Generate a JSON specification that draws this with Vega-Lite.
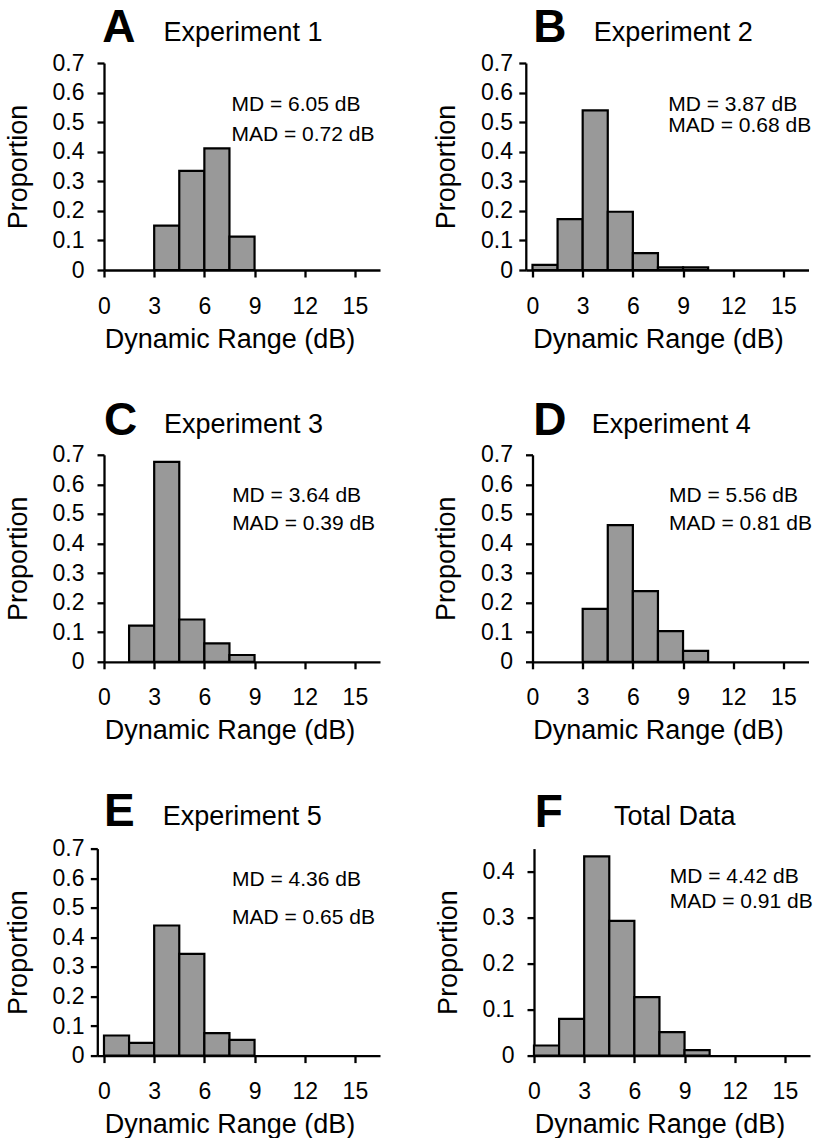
{
  "$schema": "https://vega.github.io/schema/vega-lite/v6.json",
  "padding": {"left": 4, "top": 4, "right": 0, "bottom": 0},
  "background": "white",
  "datasets": {
    "bars": [
      {"panel": "A", "lo": 3, "hi": 4.5, "p": 0.150},
      {"panel": "A", "lo": 4.5, "hi": 6, "p": 0.335},
      {"panel": "A", "lo": 6, "hi": 7.5, "p": 0.411},
      {"panel": "A", "lo": 7.5, "hi": 9, "p": 0.113},
      {"panel": "B", "lo": 0, "hi": 1.5, "p": 0.017},
      {"panel": "B", "lo": 1.5, "hi": 3, "p": 0.172},
      {"panel": "B", "lo": 3, "hi": 4.5, "p": 0.540},
      {"panel": "B", "lo": 4.5, "hi": 6, "p": 0.197},
      {"panel": "B", "lo": 6, "hi": 7.5, "p": 0.057},
      {"panel": "B", "lo": 7.5, "hi": 9, "p": 0.009},
      {"panel": "B", "lo": 9, "hi": 10.5, "p": 0.009},
      {"panel": "C", "lo": 1.5, "hi": 3, "p": 0.122},
      {"panel": "C", "lo": 3, "hi": 4.5, "p": 0.676},
      {"panel": "C", "lo": 4.5, "hi": 6, "p": 0.143},
      {"panel": "C", "lo": 6, "hi": 7.5, "p": 0.062},
      {"panel": "C", "lo": 7.5, "hi": 9, "p": 0.023},
      {"panel": "D", "lo": 3, "hi": 4.5, "p": 0.179},
      {"panel": "D", "lo": 4.5, "hi": 6, "p": 0.462},
      {"panel": "D", "lo": 6, "hi": 7.5, "p": 0.239},
      {"panel": "D", "lo": 7.5, "hi": 9, "p": 0.104},
      {"panel": "D", "lo": 9, "hi": 10.5, "p": 0.037},
      {"panel": "E", "lo": 0, "hi": 1.5, "p": 0.068},
      {"panel": "E", "lo": 1.5, "hi": 3, "p": 0.043},
      {"panel": "E", "lo": 3, "hi": 4.5, "p": 0.440},
      {"panel": "E", "lo": 4.5, "hi": 6, "p": 0.344},
      {"panel": "E", "lo": 6, "hi": 7.5, "p": 0.076},
      {"panel": "E", "lo": 7.5, "hi": 9, "p": 0.053},
      {"panel": "F", "lo": 0, "hi": 1.5, "p": 0.022},
      {"panel": "F", "lo": 1.5, "hi": 3, "p": 0.080},
      {"panel": "F", "lo": 3, "hi": 4.5, "p": 0.433},
      {"panel": "F", "lo": 4.5, "hi": 6, "p": 0.293},
      {"panel": "F", "lo": 6, "hi": 7.5, "p": 0.127},
      {"panel": "F", "lo": 7.5, "hi": 9, "p": 0.051},
      {"panel": "F", "lo": 9, "hi": 10.5, "p": 0.012}
    ],
    "notes": [
      {"panel": "A", "kind": "letter", "label": "A", "x": -0.1, "y": 0.772},
      {"panel": "A", "kind": "name", "label": "Experiment 1", "x": 8.31, "y": 0.774},
      {"panel": "A", "kind": "stat", "label": "MD = 6.05 dB", "x": 7.62, "y": 0.558},
      {"panel": "A", "kind": "stat", "label": "MAD = 0.72 dB", "x": 7.62, "y": 0.458},
      {"panel": "B", "kind": "letter", "label": "B", "x": 0.05, "y": 0.772},
      {"panel": "B", "kind": "name", "label": "Experiment 2", "x": 8.41, "y": 0.774},
      {"panel": "B", "kind": "stat", "label": "MD = 3.87 dB", "x": 8.11, "y": 0.558},
      {"panel": "B", "kind": "stat", "label": "MAD = 0.68 dB", "x": 8.11, "y": 0.488},
      {"panel": "C", "kind": "letter", "label": "C", "x": 0.0, "y": 0.768},
      {"panel": "C", "kind": "name", "label": "Experiment 3", "x": 8.34, "y": 0.774},
      {"panel": "C", "kind": "stat", "label": "MD = 3.64 dB", "x": 7.66, "y": 0.562},
      {"panel": "C", "kind": "stat", "label": "MAD = 0.39 dB", "x": 7.66, "y": 0.465},
      {"panel": "D", "kind": "letter", "label": "D", "x": 0.05, "y": 0.768},
      {"panel": "D", "kind": "name", "label": "Experiment 4", "x": 8.3, "y": 0.774},
      {"panel": "D", "kind": "stat", "label": "MD = 5.56 dB", "x": 8.16, "y": 0.562},
      {"panel": "D", "kind": "stat", "label": "MAD = 0.81 dB", "x": 8.16, "y": 0.465},
      {"panel": "E", "kind": "letter", "label": "E", "x": 0.0, "y": 0.777},
      {"panel": "E", "kind": "name", "label": "Experiment 5", "x": 8.26, "y": 0.78},
      {"panel": "E", "kind": "stat", "label": "MD = 4.36 dB", "x": 7.65, "y": 0.593},
      {"panel": "E", "kind": "stat", "label": "MAD = 0.65 dB", "x": 7.65, "y": 0.465},
      {"panel": "F", "kind": "letter", "label": "F", "x": 0.05, "y": 0.497},
      {"panel": "F", "kind": "name", "label": "Total Data", "x": 8.41, "y": 0.502},
      {"panel": "F", "kind": "stat", "label": "MD = 4.42 dB", "x": 8.11, "y": 0.388},
      {"panel": "F", "kind": "stat", "label": "MAD = 0.91 dB", "x": 8.11, "y": 0.333}
    ]
  },
  "spacing": 44.8,
  "vconcat": [
    {
      "spacing": 52.5,
      "hconcat": [
        {
          "width": 276, "height": 207,
          "layer": [
            {"data": {"name": "bars"}, "transform": [{"filter": "datum.panel === 'A'"}],
             "mark": {"type": "rect", "fill": "#999999", "stroke": "#000000", "strokeWidth": 2.2},
             "encoding": {
               "x": {"field": "lo", "type": "quantitative", "scale": {"domain": [0, 16.5], "nice": false, "zero": false},
                     "axis": {"title": "Dynamic Range (dB)", "values": [0, 3, 6, 9, 12, 15], "tickCount": 20, "titleX": 125.5}},
               "x2": {"field": "hi"},
               "y": {"field": "p", "type": "quantitative", "scale": {"domain": [0, 0.7], "nice": false},
                     "axis": {"title": "Proportion", "values": [0, 0.1, 0.2, 0.3, 0.4, 0.5, 0.6, 0.7], "tickCount": 20}},
               "y2": {"datum": 0}}},
            {"data": {"name": "notes"}, "transform": [{"filter": "datum.panel === 'A' && datum.kind === 'letter'"}],
             "mark": {"type": "text", "fontSize": 46, "fontWeight": "bold", "align": "left", "baseline": "alphabetic", "color": "#000000"},
             "encoding": {"x": {"field": "x", "type": "quantitative"}, "y": {"field": "y", "type": "quantitative"}, "text": {"field": "label"}}},
            {"data": {"name": "notes"}, "transform": [{"filter": "datum.panel === 'A' && datum.kind === 'name'"}],
             "mark": {"type": "text", "fontSize": 27, "align": "center", "baseline": "alphabetic", "color": "#000000"},
             "encoding": {"x": {"field": "x", "type": "quantitative"}, "y": {"field": "y", "type": "quantitative"}, "text": {"field": "label"}}},
            {"data": {"name": "notes"}, "transform": [{"filter": "datum.panel === 'A' && datum.kind === 'stat'"}],
             "mark": {"type": "text", "fontSize": 21, "align": "left", "baseline": "middle", "color": "#000000"},
             "encoding": {"x": {"field": "x", "type": "quantitative"}, "y": {"field": "y", "type": "quantitative"}, "text": {"field": "label"}}}
          ]
        },
        {
          "width": 276, "height": 207,
          "layer": [
            {"data": {"name": "bars"}, "transform": [{"filter": "datum.panel === 'B'"}],
             "mark": {"type": "rect", "fill": "#999999", "stroke": "#000000", "strokeWidth": 2.2},
             "encoding": {
               "x": {"field": "lo", "type": "quantitative", "scale": {"domain": [-0.4, 16.5], "rangeMin": -6.7, "nice": false, "zero": false},
                     "axis": {"title": "Dynamic Range (dB)", "values": [0, 3, 6, 9, 12, 15], "tickCount": 20, "titleX": 125.5}},
               "x2": {"field": "hi"},
               "y": {"field": "p", "type": "quantitative", "scale": {"domain": [0, 0.7], "nice": false},
                     "axis": {"title": "Proportion", "values": [0, 0.1, 0.2, 0.3, 0.4, 0.5, 0.6, 0.7], "tickCount": 20, "offset": 6.7, "labelPadding": 6.3}},
               "y2": {"datum": 0}}},
            {"data": {"name": "notes"}, "transform": [{"filter": "datum.panel === 'B' && datum.kind === 'letter'"}],
             "mark": {"type": "text", "fontSize": 46, "fontWeight": "bold", "align": "left", "baseline": "alphabetic", "color": "#000000"},
             "encoding": {"x": {"field": "x", "type": "quantitative"}, "y": {"field": "y", "type": "quantitative"}, "text": {"field": "label"}}},
            {"data": {"name": "notes"}, "transform": [{"filter": "datum.panel === 'B' && datum.kind === 'name'"}],
             "mark": {"type": "text", "fontSize": 27, "align": "center", "baseline": "alphabetic", "color": "#000000"},
             "encoding": {"x": {"field": "x", "type": "quantitative"}, "y": {"field": "y", "type": "quantitative"}, "text": {"field": "label"}}},
            {"data": {"name": "notes"}, "transform": [{"filter": "datum.panel === 'B' && datum.kind === 'stat'"}],
             "mark": {"type": "text", "fontSize": 21, "align": "left", "baseline": "middle", "color": "#000000"},
             "encoding": {"x": {"field": "x", "type": "quantitative"}, "y": {"field": "y", "type": "quantitative"}, "text": {"field": "label"}}}
          ]
        }
      ]
    },
    {
      "spacing": 52.5,
      "hconcat": [
        {
          "width": 276, "height": 207,
          "layer": [
            {"data": {"name": "bars"}, "transform": [{"filter": "datum.panel === 'C'"}],
             "mark": {"type": "rect", "fill": "#999999", "stroke": "#000000", "strokeWidth": 2.2},
             "encoding": {
               "x": {"field": "lo", "type": "quantitative", "scale": {"domain": [0, 16.5], "nice": false, "zero": false},
                     "axis": {"title": "Dynamic Range (dB)", "values": [0, 3, 6, 9, 12, 15], "tickCount": 20, "titleX": 125.5}},
               "x2": {"field": "hi"},
               "y": {"field": "p", "type": "quantitative", "scale": {"domain": [0, 0.7], "nice": false},
                     "axis": {"title": "Proportion", "values": [0, 0.1, 0.2, 0.3, 0.4, 0.5, 0.6, 0.7], "tickCount": 20}},
               "y2": {"datum": 0}}},
            {"data": {"name": "notes"}, "transform": [{"filter": "datum.panel === 'C' && datum.kind === 'letter'"}],
             "mark": {"type": "text", "fontSize": 46, "fontWeight": "bold", "align": "left", "baseline": "alphabetic", "color": "#000000"},
             "encoding": {"x": {"field": "x", "type": "quantitative"}, "y": {"field": "y", "type": "quantitative"}, "text": {"field": "label"}}},
            {"data": {"name": "notes"}, "transform": [{"filter": "datum.panel === 'C' && datum.kind === 'name'"}],
             "mark": {"type": "text", "fontSize": 27, "align": "center", "baseline": "alphabetic", "color": "#000000"},
             "encoding": {"x": {"field": "x", "type": "quantitative"}, "y": {"field": "y", "type": "quantitative"}, "text": {"field": "label"}}},
            {"data": {"name": "notes"}, "transform": [{"filter": "datum.panel === 'C' && datum.kind === 'stat'"}],
             "mark": {"type": "text", "fontSize": 21, "align": "left", "baseline": "middle", "color": "#000000"},
             "encoding": {"x": {"field": "x", "type": "quantitative"}, "y": {"field": "y", "type": "quantitative"}, "text": {"field": "label"}}}
          ]
        },
        {
          "width": 276, "height": 207,
          "layer": [
            {"data": {"name": "bars"}, "transform": [{"filter": "datum.panel === 'D'"}],
             "mark": {"type": "rect", "fill": "#999999", "stroke": "#000000", "strokeWidth": 2.2},
             "encoding": {
               "x": {"field": "lo", "type": "quantitative", "scale": {"domain": [0, 16.5], "nice": false, "zero": false},
                     "axis": {"title": "Dynamic Range (dB)", "values": [0, 3, 6, 9, 12, 15], "tickCount": 20, "titleX": 125.5}},
               "x2": {"field": "hi"},
               "y": {"field": "p", "type": "quantitative", "scale": {"domain": [0, 0.7], "nice": false},
                     "axis": {"title": "Proportion", "values": [0, 0.1, 0.2, 0.3, 0.4, 0.5, 0.6, 0.7], "tickCount": 20}},
               "y2": {"datum": 0}}},
            {"data": {"name": "notes"}, "transform": [{"filter": "datum.panel === 'D' && datum.kind === 'letter'"}],
             "mark": {"type": "text", "fontSize": 46, "fontWeight": "bold", "align": "left", "baseline": "alphabetic", "color": "#000000"},
             "encoding": {"x": {"field": "x", "type": "quantitative"}, "y": {"field": "y", "type": "quantitative"}, "text": {"field": "label"}}},
            {"data": {"name": "notes"}, "transform": [{"filter": "datum.panel === 'D' && datum.kind === 'name'"}],
             "mark": {"type": "text", "fontSize": 27, "align": "center", "baseline": "alphabetic", "color": "#000000"},
             "encoding": {"x": {"field": "x", "type": "quantitative"}, "y": {"field": "y", "type": "quantitative"}, "text": {"field": "label"}}},
            {"data": {"name": "notes"}, "transform": [{"filter": "datum.panel === 'D' && datum.kind === 'stat'"}],
             "mark": {"type": "text", "fontSize": 21, "align": "left", "baseline": "middle", "color": "#000000"},
             "encoding": {"x": {"field": "x", "type": "quantitative"}, "y": {"field": "y", "type": "quantitative"}, "text": {"field": "label"}}}
          ]
        }
      ]
    },
    {
      "spacing": 47,
      "hconcat": [
        {
          "width": 276, "height": 207,
          "layer": [
            {"data": {"name": "bars"}, "transform": [{"filter": "datum.panel === 'E'"}],
             "mark": {"type": "rect", "fill": "#999999", "stroke": "#000000", "strokeWidth": 2.2},
             "encoding": {
               "x": {"field": "lo", "type": "quantitative", "scale": {"domain": [-0.4, 16.5], "rangeMin": -6.7, "nice": false, "zero": false},
                     "axis": {"title": "Dynamic Range (dB)", "values": [0, 3, 6, 9, 12, 15], "tickCount": 20, "titleX": 125.5}},
               "x2": {"field": "hi"},
               "y": {"field": "p", "type": "quantitative", "scale": {"domain": [0, 0.7], "nice": false},
                     "axis": {"title": "Proportion", "values": [0, 0.1, 0.2, 0.3, 0.4, 0.5, 0.6, 0.7], "tickCount": 20, "offset": 6.7, "labelPadding": 6.3}},
               "y2": {"datum": 0}}},
            {"data": {"name": "notes"}, "transform": [{"filter": "datum.panel === 'E' && datum.kind === 'letter'"}],
             "mark": {"type": "text", "fontSize": 46, "fontWeight": "bold", "align": "left", "baseline": "alphabetic", "color": "#000000"},
             "encoding": {"x": {"field": "x", "type": "quantitative"}, "y": {"field": "y", "type": "quantitative"}, "text": {"field": "label"}}},
            {"data": {"name": "notes"}, "transform": [{"filter": "datum.panel === 'E' && datum.kind === 'name'"}],
             "mark": {"type": "text", "fontSize": 27, "align": "center", "baseline": "alphabetic", "color": "#000000"},
             "encoding": {"x": {"field": "x", "type": "quantitative"}, "y": {"field": "y", "type": "quantitative"}, "text": {"field": "label"}}},
            {"data": {"name": "notes"}, "transform": [{"filter": "datum.panel === 'E' && datum.kind === 'stat'"}],
             "mark": {"type": "text", "fontSize": 21, "align": "left", "baseline": "middle", "color": "#000000"},
             "encoding": {"x": {"field": "x", "type": "quantitative"}, "y": {"field": "y", "type": "quantitative"}, "text": {"field": "label"}}}
          ]
        },
        {
          "width": 276, "height": 207,
          "layer": [
            {"data": {"name": "bars"}, "transform": [{"filter": "datum.panel === 'F'"}],
             "mark": {"type": "rect", "fill": "#999999", "stroke": "#000000", "strokeWidth": 2.2},
             "encoding": {
               "x": {"field": "lo", "type": "quantitative", "scale": {"domain": [0, 16.5], "nice": false, "zero": false},
                     "axis": {"title": "Dynamic Range (dB)", "values": [0, 3, 6, 9, 12, 15], "tickCount": 20, "titleX": 125.5}},
               "x2": {"field": "hi"},
               "y": {"field": "p", "type": "quantitative", "scale": {"domain": [0, 0.45], "nice": false},
                     "axis": {"title": "Proportion", "values": [0, 0.1, 0.2, 0.3, 0.4], "tickCount": 20}},
               "y2": {"datum": 0}}},
            {"data": {"name": "notes"}, "transform": [{"filter": "datum.panel === 'F' && datum.kind === 'letter'"}],
             "mark": {"type": "text", "fontSize": 46, "fontWeight": "bold", "align": "left", "baseline": "alphabetic", "color": "#000000"},
             "encoding": {"x": {"field": "x", "type": "quantitative"}, "y": {"field": "y", "type": "quantitative"}, "text": {"field": "label"}}},
            {"data": {"name": "notes"}, "transform": [{"filter": "datum.panel === 'F' && datum.kind === 'name'"}],
             "mark": {"type": "text", "fontSize": 27, "align": "center", "baseline": "alphabetic", "color": "#000000"},
             "encoding": {"x": {"field": "x", "type": "quantitative"}, "y": {"field": "y", "type": "quantitative"}, "text": {"field": "label"}}},
            {"data": {"name": "notes"}, "transform": [{"filter": "datum.panel === 'F' && datum.kind === 'stat'"}],
             "mark": {"type": "text", "fontSize": 21, "align": "left", "baseline": "middle", "color": "#000000"},
             "encoding": {"x": {"field": "x", "type": "quantitative"}, "y": {"field": "y", "type": "quantitative"}, "text": {"field": "label"}}}
          ]
        }
      ]
    }
  ],
  "config": {
    "font": "Liberation Sans",
    "view": {"stroke": null},
    "axis": {
      "grid": false,
      "domainColor": "#000000", "domainWidth": 2.3,
      "tickColor": "#000000", "tickWidth": 2.3, "tickSize": 7,
      "labelFont": "Liberation Sans", "labelFontSize": 23, "labelColor": "#000000",
      "labelFlush": false, "labelOverlap": false, "labelBound": false,
      "titleFont": "Liberation Sans", "titleFontSize": 27, "titleFontWeight": "normal", "titleColor": "#000000"
    },
    "axisX": {"labelPadding": 18, "titlePadding": 8},
    "axisY": {"labelPadding": 13, "titlePadding": 20, "format": ".1~f"}
  }
}
